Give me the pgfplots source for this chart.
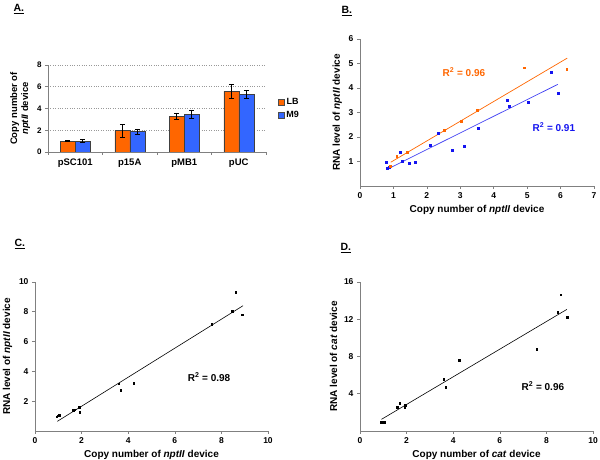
\documentclass[border=0pt]{standalone}
\usepackage{fontspec}
\setmainfont{Liberation Sans}
\usepackage{pgfplots}
\pgfplotsset{compat=1.18}
\definecolor{lbor}{HTML}{FF6600}
\definecolor{mblue}{HTML}{3366FF}
\definecolor{bblue}{HTML}{1414F0}
\definecolor{axgray}{HTML}{808080}
\pgfplotsset{
 panel/.style={
   scale only axis,
   axis x line*=bottom, axis y line*=left,
   axis line style={axgray, line width=0.6pt},
   tick style={axgray, line width=0.6pt},
   tick align=outside,
   major tick length=3pt,
   /pgf/number format/assume math mode=true,
   ticklabel style={font=\bfseries\fontsize{8.5}{10}\selectfont, black},
   label style={font=\bfseries\fontsize{10}{12}\selectfont},
 }
}
\begin{document}
\begin{tikzpicture}
\path[use as bounding box] (0pt,0pt) rectangle (600pt,460pt);
\node[anchor=base west, font=\bfseries\fontsize{10.5}{12}\selectfont] at (10pt,448pt) {\underline{A.}};
\node[anchor=base west, font=\bfseries\fontsize{10.5}{12}\selectfont] at (338pt,446pt) {\underline{B.}};
\node[anchor=base west, font=\bfseries\fontsize{10.5}{12}\selectfont] at (11pt,213pt) {\underline{C.}};
\node[anchor=base west, font=\bfseries\fontsize{10.5}{12}\selectfont] at (337pt,209pt) {\underline{D.}};

% Panel A
\begin{axis}[panel, at={(48pt,308pt)}, anchor=south west, width=218pt, height=87pt,
  xmin=-0.5, xmax=3.5, ymin=0, ymax=8,
  ybar=0pt, bar width=15pt,
  xtick={0,1,2,3}, xticklabels={pSC101,p15A,pMB1,pUC},
  xtick style={draw=none},
  xticklabel style={font=\bfseries\fontsize{9.5}{11}\selectfont},
  yticklabel style={font=\bfseries\fontsize{8}{10}\selectfont},
  extra x ticks={-0.5,0.5,1.5,2.5,3.5}, extra x tick labels={},
  extra x tick style={xtick style={draw=axgray, line width=0.6pt}, grid=none},
  ytick={0,2,4,6,8}, ymajorgrids, grid style={dotted, gray!80, line width=0.6pt},
  ylabel={Copy number of\\\textit{nptII} device},
  ylabel style={align=center, font=\bfseries\fontsize{9.5}{11}\selectfont},
  legend style={at={(1.04,0.5)}, anchor=west, draw=none, fill=none, font=\bfseries\fontsize{9}{11}\selectfont, row sep=1pt},
  legend image code/.code={\draw[#1, draw=black!70] (0pt,-3pt) rectangle (6pt,3pt);},
  error bars/error bar style={black, line width=0.6pt},
  error bars/error mark options={rotate=90, mark size=2.5pt, black, line width=0.6pt},
]
\addplot[fill=lbor, draw=black!75, line width=0.5pt, error bars/.cd, y dir=both, y explicit]
  coordinates {(0,1.0) +- (0,0.05) (1,1.97) +- (0,0.6) (2,3.28) +- (0,0.27) (3,5.58) +- (0,0.65)};
\addplot[fill=mblue, draw=black!75, line width=0.5pt, error bars/.cd, y dir=both, y explicit]
  coordinates {(0,1.01) +- (0,0.14) (1,1.9) +- (0,0.23) (2,3.48) +- (0,0.38) (3,5.3) +- (0,0.33)};
\legend{LB,M9}
\end{axis}

% Panel B
\begin{axis}[panel, at={(360pt,274pt)}, anchor=south west, width=234pt, height=147pt,
  xmin=0, xmax=7, ymin=0, ymax=6,
  xtick={0,...,7}, ytick={1,...,6},
  xlabel={Copy number of \textit{nptII} device},
  ylabel={RNA level of \textit{nptII} device},
]
\addplot[only marks, mark=square*, mark size=1.05pt, bblue] coordinates {
 (0.78,0.96) (0.82,0.73) (0.86,0.75) (1.19,1.37) (1.25,1.02) (1.46,0.94) (1.66,0.96)
 (2.10,1.66) (2.33,2.15) (2.76,1.47) (3.12,1.63) (3.53,2.35) (4.41,3.52) (4.47,3.27)
 (5.02,3.42) (5.71,4.65) (5.92,3.78)};
\addplot[only marks, mark=square*, mark size=0.85pt, lbor] coordinates {
 (0.91,0.82) (1.10,1.22) (1.42,1.38) (2.52,2.29) (3.02,2.65) (3.50,3.10) (4.91,4.83) (6.18,4.76)};
\addplot[lbor, line width=0.7pt, no markers] coordinates {(0.92,0.97) (6.2,5.22)};
\addplot[bblue!80, line width=0.7pt, no markers] coordinates {(0.81,0.68) (5.92,4.15)};
\node[lbor, font=\bfseries\fontsize{10}{12}\selectfont] at (axis cs:3.11,4.65) {R\textsuperscript{2} = 0.96};
\node[bblue, font=\bfseries\fontsize{10}{12}\selectfont] at (axis cs:5.80,2.41) {R\textsuperscript{2} = 0.91};
\end{axis}

% Panel C
\begin{axis}[panel, at={(35pt,29pt)}, anchor=south west, width=233pt, height=149pt,
  xmin=0, xmax=10, ymin=0, ymax=10,
  xtick={0,2,...,10}, ytick={2,4,...,10},
  xlabel={Copy number of \textit{nptII} device},
  ylabel={RNA level of \textit{nptII} device},
]
\addplot[only marks, mark=square*, mark size=0.8pt, black] coordinates {
 (0.93,0.96) (1.0,1.03) (1.04,1.07) (1.64,1.39) (1.70,1.43) (1.90,1.59) (1.91,1.25)
 (3.60,3.18) (3.67,2.75) (4.23,3.22) (7.59,7.18) (8.46,8.05) (8.61,9.31) (8.89,7.81)};
\addplot[black, line width=0.6pt, no markers] coordinates {(0.96,0.65) (8.93,8.41)};
\node[font=\bfseries\fontsize{10}{12}\selectfont] at (axis cs:7.47,3.62) {R\textsuperscript{2} = 0.98};
\end{axis}

% Panel D
\begin{axis}[panel, at={(360pt,29pt)}, anchor=south west, width=233pt, height=149pt,
  xmin=0, xmax=10, ymin=0, ymax=16,
  xtick={0,2,...,10}, ytick={4,8,12,16},
  xlabel={Copy number of \textit{cat} device},
  ylabel={RNA level of \textit{cat} device},
]
\addplot[only marks, mark=square*, mark size=0.8pt, black] coordinates {
 (0.92,0.93) (0.99,0.97) (1.03,0.93) (1.60,2.58) (1.70,3.0) (1.92,2.58) (1.95,2.79)
 (3.59,5.58) (3.68,4.69) (4.25,7.59) (7.58,8.77) (8.48,12.78) (8.61,14.64) (8.88,12.24)};
\addplot[black, line width=0.6pt, no markers] coordinates {(0.92,1.25) (8.88,13.06)};
\node[font=\bfseries\fontsize{10}{12}\selectfont] at (axis cs:7.85,4.83) {R\textsuperscript{2} = 0.96};
\end{axis}
\end{tikzpicture}
\end{document}
